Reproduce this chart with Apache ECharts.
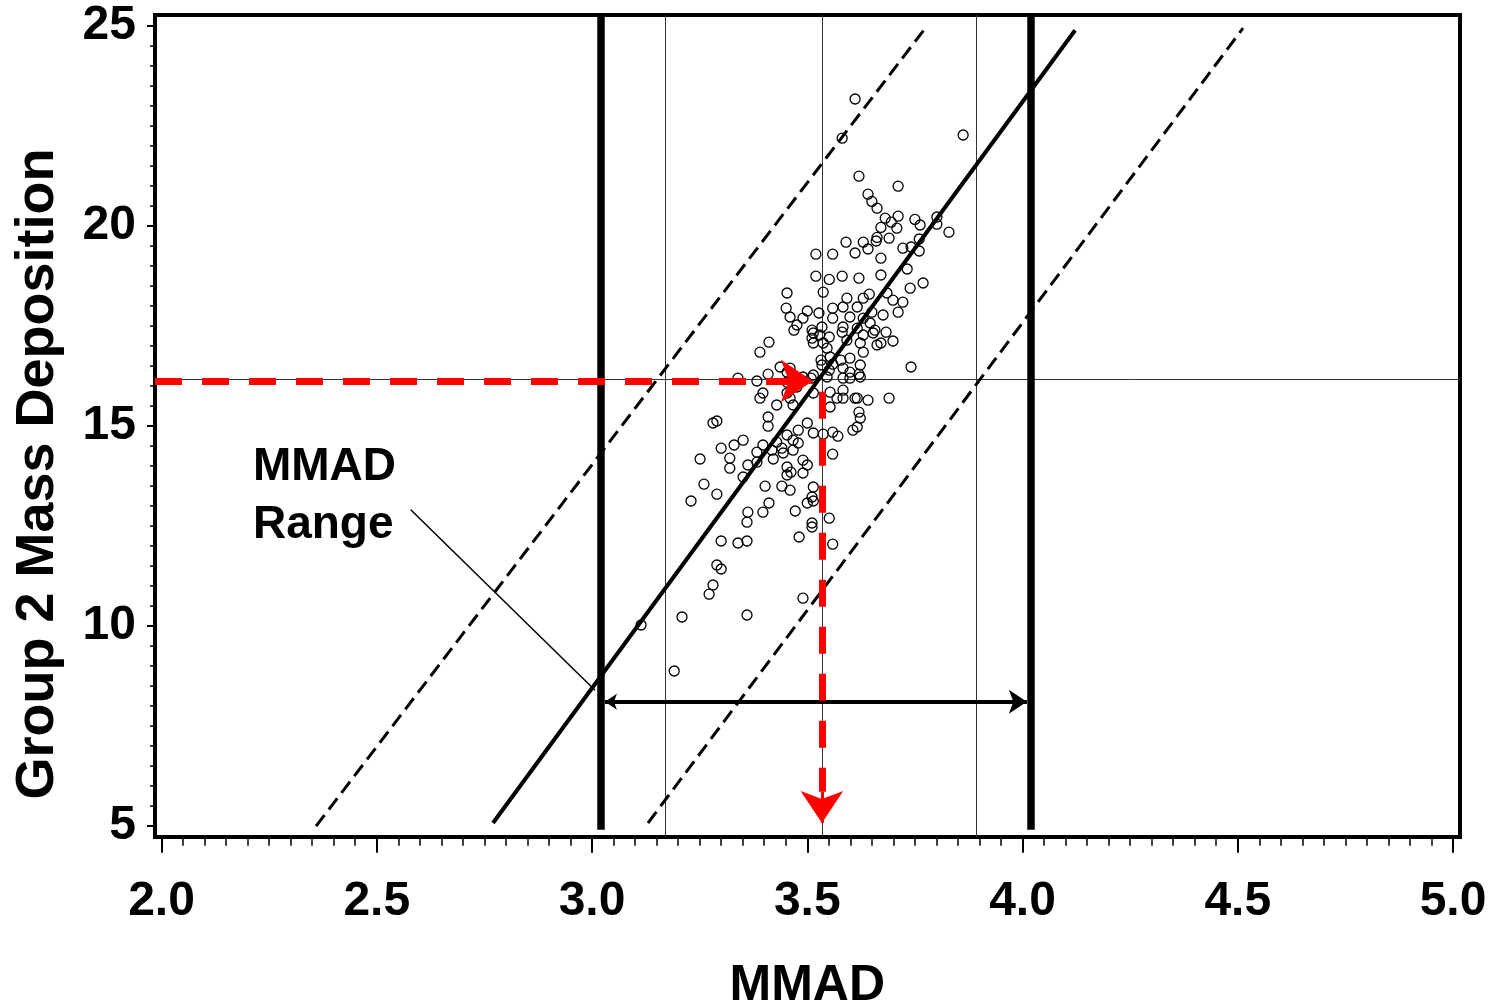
<!DOCTYPE html>
<html>
<head>
<meta charset="utf-8">
<script src="https://cdn.jsdelivr.net/npm/echarts@6/dist/echarts.min.js"></script>
<style>
  html, body { margin: 0; padding: 0; background: #ffffff; }
  #chart { width: 1491px; height: 1007px; }
</style>
</head>
<body>
<div id="chart"></div>
<script>
// Axis scales (tick axes) and the slightly larger framed plotting box
const xTickRange = [2.0, 5.0];
const xTickStep = 0.5;
const yTickRange = [5, 25];
const yTickStep = 5;
const frameX = [1.985, 5.016];
const frameY = [4.72, 25.27];

// Individual samples: [MMAD, Group 2 mass deposition]
const samples = [
  [3.611,23.17],[3.581,22.19],[3.862,22.27],[3.620,21.24],[3.711,20.99],[3.641,20.79],[3.650,20.61],
  [3.662,20.44],[3.681,20.19],[3.711,20.24],[3.750,20.16],[3.671,19.96],[3.695,20.09],[3.708,19.94],
  [3.762,20.02],[3.801,20.22],[3.801,20.04],[3.829,19.84],[3.662,19.71],[3.690,19.69],[3.590,19.59],
  [3.630,19.59],[3.660,19.62],[3.760,19.67],[3.641,19.42],[3.611,19.32],[3.722,19.44],[3.741,19.47],
  [3.760,19.37],[3.520,19.29],[3.559,19.29],[3.671,19.19],[3.732,18.92],[3.520,18.74],[3.551,18.66],
  [3.581,18.74],[3.620,18.69],[3.671,18.77],[3.769,18.57],
  [3.453,18.32],[3.537,18.34],[3.592,18.19],[3.630,18.19],[3.644,18.29],[3.685,18.32],[3.739,18.44],
  [3.699,18.14],[3.722,18.09],[3.559,17.94],[3.583,17.97],[3.616,17.97],[3.650,17.84],[3.451,17.94],
  [3.460,17.72],[3.500,17.87],[3.490,17.69],[3.527,17.82],[3.559,17.69],[3.599,17.72],[3.630,17.69],
  [3.676,17.77],[3.711,17.84],[3.476,17.52],[3.469,17.39],[3.534,17.47],[3.583,17.47],[3.616,17.44],
  [3.646,17.57],[3.514,17.32],[3.529,17.27],[3.581,17.34],[3.630,17.27],[3.653,17.32],[3.683,17.34],
  [3.511,17.19],[3.551,17.22],[3.592,17.14],[3.623,17.07],[3.662,17.02],[3.699,17.12],[3.514,17.07],
  [3.537,17.07],[3.671,17.07],[3.411,17.09],[3.390,16.84],[3.532,16.64],[3.553,16.72],[3.578,16.64],
  [3.599,16.69],[3.534,16.52],[3.559,16.54],[3.623,16.52],[3.741,16.47],[3.460,16.44],[3.551,16.39],
  [3.583,16.44],[3.620,16.29],[3.514,16.27],[3.546,16.22],[3.583,16.19],[3.409,16.29],[3.339,16.19],
  [3.383,16.12],[3.453,16.09],[3.490,16.22],[3.397,15.82],[3.514,15.82],[3.553,15.84],[3.583,15.69],
  [3.616,15.69],[3.641,15.64],[3.690,15.69],[3.460,15.69],
  [3.511,17.39],[3.546,16.94],[3.599,16.34],[3.630,16.84],[3.657,17.39],[3.509,16.19],
  [3.599,16.19],[3.623,16.22],[3.583,15.89],[3.606,14.89],[3.453,16.34],[3.437,16.47],[3.476,15.97],
  [3.453,15.82],
  [3.390,15.69],[3.429,15.52],[3.467,15.52],[3.553,15.47],[3.569,15.69],[3.611,15.69],[3.620,15.34],
  [3.623,15.19],[3.616,14.97],[3.409,15.22],[3.409,14.99],[3.281,15.07],[3.290,15.12],[3.500,15.07],
  [3.479,14.89],[3.514,14.82],[3.537,14.79],[3.571,14.74],[3.559,14.84],[3.453,14.77],[3.467,14.64],
  [3.429,14.59],[3.351,14.64],[3.330,14.52],[3.300,14.44],[3.397,14.52],[3.441,14.44],[3.479,14.57],
  [3.383,14.34],[3.418,14.39],[3.444,14.32],[3.467,14.39],[3.559,14.29],[3.251,14.17],[3.320,14.19],
  [3.383,14.09],[3.421,14.17],[3.490,14.14],[3.320,13.94],[3.362,14.02],[3.453,13.97],[3.500,14.02],
  [3.462,13.84],[3.490,13.82],[3.453,13.77],[3.351,13.72],[3.260,13.54],[3.402,13.49],[3.441,13.49],
  [3.460,13.39],[3.514,13.47],[3.511,13.22],[3.290,13.29],[3.230,13.12],[3.411,13.07],[3.500,13.07],
  [3.514,13.12],[3.362,12.84],[3.397,12.84],[3.472,12.87],[3.551,12.69],[3.360,12.59],[3.511,12.57],
  [3.511,12.47],[3.481,12.22],[3.300,12.12],[3.339,12.07],[3.360,12.12],[3.559,12.04],[3.290,11.52],
  [3.300,11.42],[3.281,11.02],[3.272,10.79],[3.490,10.69],[3.209,10.22],[3.360,10.27],[3.114,10.02],
  [3.191,8.87]
];

// Regression line and its prediction bounds (end points)
const fitLine = [[2.770, 5.07], [4.122, 24.89]];
const upperBound = [[2.359, 4.99], [3.774, 24.94]];
const lowerBound = [[3.130, 5.07], [4.512, 24.94]];

// MMAD range limits (heavy verticals) and their lower end
const rangeLimits = [3.021, 4.019];
const rangeLimitBottom = 4.9;

// Thin reference lines
const refVerticals = [3.171, 3.534, 3.892];
const refHorizontal = 16.16;

// Red read-out: target deposition -> MMAD
const readoutY = 16.12;
const readoutTipX = 3.513;
const readoutHeadBaseX = 3.47;
const readoutX = 3.534;
const readoutStartY = 15.85;
const readoutHeadBaseY = 5.85;
const readoutTipY = 5.07;

// Double arrow spanning the MMAD range
const rangeArrowY = 8.10;
const rangeArrowX = [3.030, 4.010];

// Call-out text and its leader line
const calloutText = 'MMAD\nRange';
const calloutAnchor = [2.2125, 13.24];
const calloutLeader = [[2.579, 12.90], [3.007, 8.39]];

const FONT = '"Liberation Sans", Arial, Helvetica, sans-serif';

const chart = echarts.init(document.getElementById('chart'), null, { renderer: 'canvas' });

const seg = (a, b) => ({ coords: [a, b] });

function buildOption(extraGraphics) {
  return {
    animation: false,
    backgroundColor: '#ffffff',
    grid: [
      { left: 155, right: 31, top: 15, bottom: 170, show: true, containLabel: false,
        outerBoundsMode: 'none',
        borderColor: '#000', borderWidth: 4, backgroundColor: 'transparent' },
      { left: 161.5, right: 38, top: 25.7, bottom: 181.3, containLabel: false,
        outerBoundsMode: 'none' }
    ],
    xAxis: [
      { gridIndex: 0, type: 'value', min: frameX[0], max: frameX[1], show: false },
      { gridIndex: 1, type: 'value', min: xTickRange[0], max: xTickRange[1], interval: xTickStep,
        offset: 11,
        axisLine: { show: false },
        axisTick: { show: true, length: 16, lineStyle: { color: '#000', width: 2 } },
        minorTick: { show: true, splitNumber: 10, length: 9, lineStyle: { color: '#000', width: 1.5 } },
        splitLine: { show: false },
        axisLabel: { margin: 41, color: '#000', fontSize: 48, fontWeight: 'bold', fontFamily: FONT,
          formatter: v => v.toFixed(1) },
        name: 'MMAD', nameLocation: 'middle', nameGap: 125,
        nameTextStyle: { color: '#000', fontSize: 50, fontWeight: 'bold', fontFamily: FONT }
      }
    ],
    yAxis: [
      { gridIndex: 0, type: 'value', min: frameY[0], max: frameY[1], show: false },
      { gridIndex: 1, type: 'value', min: yTickRange[0], max: yTickRange[1], interval: yTickStep,
        offset: 6.5,
        axisLine: { show: false },
        axisTick: { show: true, length: 8, lineStyle: { color: '#000', width: 2 } },
        minorTick: { show: true, splitNumber: 10, length: 5, lineStyle: { color: '#000', width: 1.5 } },
        splitLine: { show: false },
        axisLabel: { margin: 19, color: '#000', fontSize: 48, fontWeight: 'bold', fontFamily: FONT }
      }
    ],
    graphic: [
      { id: 'yTitle', type: 'text', x: 38, y: 474, rotation: Math.PI / 2,
        style: { text: 'Group 2 Mass Deposition', fill: '#000', fontSize: 54, fontWeight: 'bold',
          fontFamily: FONT, textAlign: 'center', textVerticalAlign: 'middle' } }
    ].concat(extraGraphics),
    series: [
      { // thin reference lines
        type: 'lines', coordinateSystem: 'cartesian2d', xAxisIndex: 0, yAxisIndex: 0, z: 1,
        symbol: 'none', silent: true,
        lineStyle: { color: '#333', width: 1, opacity: 1 },
        data: refVerticals.map(x => seg([x, frameY[0]], [x, frameY[1]]))
          .concat([seg([frameX[0], refHorizontal], [frameX[1], refHorizontal])])
      },
      { // samples
        type: 'scatter', xAxisIndex: 0, yAxisIndex: 0, z: 2, silent: true,
        symbol: 'circle', symbolSize: 10,
        itemStyle: { color: 'rgba(255,255,255,0)', borderColor: '#000', borderWidth: 1.3, opacity: 1 },
        data: samples
      },
      { // heavy MMAD range limits
        type: 'lines', coordinateSystem: 'cartesian2d', xAxisIndex: 0, yAxisIndex: 0, z: 3,
        symbol: 'none', silent: true,
        lineStyle: { color: '#000', width: 7.5, opacity: 1 },
        data: rangeLimits.map(x => seg([x, rangeLimitBottom], [x, frameY[1]]))
      },
      { // regression line
        type: 'lines', coordinateSystem: 'cartesian2d', xAxisIndex: 0, yAxisIndex: 0, z: 4,
        symbol: 'none', silent: true,
        lineStyle: { color: '#000', width: 4, opacity: 1 },
        data: [seg(fitLine[0], fitLine[1])]
      },
      { // prediction bounds
        type: 'lines', coordinateSystem: 'cartesian2d', xAxisIndex: 0, yAxisIndex: 0, z: 4,
        symbol: 'none', silent: true,
        lineStyle: { color: '#000', width: 3, type: [14, 7], opacity: 1 },
        data: [seg(upperBound[0], upperBound[1]), seg(lowerBound[0], lowerBound[1])]
      },
      { // double arrow across the MMAD range
        type: 'lines', coordinateSystem: 'cartesian2d', xAxisIndex: 0, yAxisIndex: 0, z: 5,
        symbol: ['arrow', 'arrow'], symbolSize: [12, 18], silent: true,
        lineStyle: { color: '#000', width: 4, opacity: 1 },
        data: [seg([rangeArrowX[0], rangeArrowY], [rangeArrowX[1], rangeArrowY])]
      },
      { // call-out leader
        type: 'lines', coordinateSystem: 'cartesian2d', xAxisIndex: 0, yAxisIndex: 0, z: 5,
        symbol: 'none', silent: true,
        lineStyle: { color: '#000', width: 1.5, opacity: 1 },
        data: [seg(calloutLeader[0], calloutLeader[1])]
      },
      { // red read-out shafts
        type: 'lines', coordinateSystem: 'cartesian2d', xAxisIndex: 0, yAxisIndex: 0, z: 6,
        symbol: 'none', silent: true,
        lineStyle: { color: '#ff0000', width: 7, type: [27, 20], opacity: 1 },
        data: [
          seg([frameX[0], readoutY], [readoutHeadBaseX, readoutY]),
          seg([readoutX, readoutStartY], [readoutX, readoutHeadBaseY])
        ]
      },
      { // red read-out heads
        type: 'lines', coordinateSystem: 'cartesian2d', xAxisIndex: 0, yAxisIndex: 0, z: 6,
        symbol: ['none', 'arrow'], symbolSize: [25, 32], silent: true,
        lineStyle: { color: '#ff0000', width: 3, opacity: 1 },
        data: [
          seg([readoutHeadBaseX, readoutY], [readoutTipX, readoutY]),
          seg([readoutX, readoutHeadBaseY], [readoutX, readoutTipY])
        ]
      }
    ]
  };
}

// First pass lays out the axes so the call-out anchor can be converted to pixels
chart.setOption(buildOption([]));
const anchorPx = chart.convertToPixel({ xAxisIndex: 0, yAxisIndex: 0 }, calloutAnchor);

// Final pass: fresh option including the call-out text
chart.setOption(buildOption([
  { id: 'callout', type: 'text', x: anchorPx[0], y: anchorPx[1], z: 100,
    style: { text: calloutText, fill: '#000', fontSize: 46, fontWeight: 'bold', fontFamily: FONT,
      lineHeight: 58, textAlign: 'left', textVerticalAlign: 'middle' } }
]), { notMerge: true });
</script>
</body>
</html>
